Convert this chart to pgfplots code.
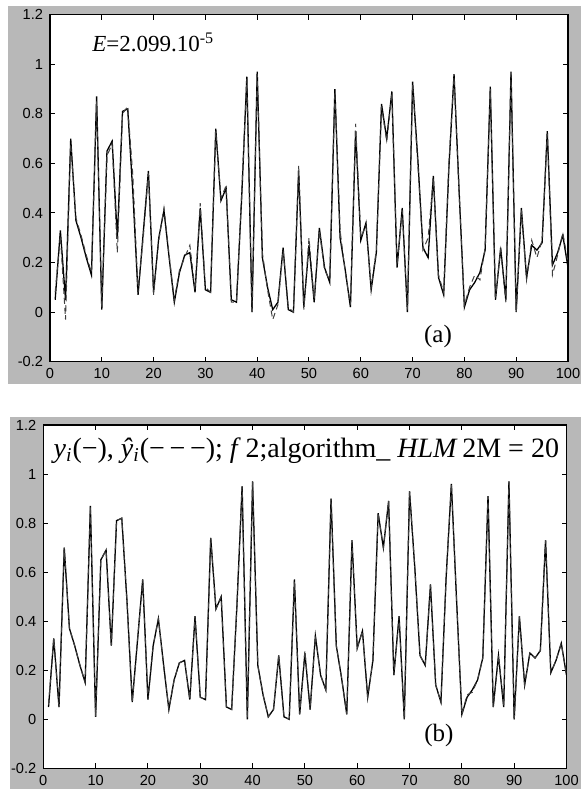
\documentclass[border=0pt]{standalone}
\usepackage{pgfplots}
\usepackage{pgfplotstable}
\pgfplotsset{compat=1.18}
\usepackage{fontspec}
\setmainfont{Liberation Serif}
\newfontfamily\tickfont{Liberation Sans}
\definecolor{bggray}{gray}{0.72}

\pgfplotstableread{
t y ya yb
1 0.05 0.08 0.06
2 0.33 0.31 0.33
3 0.05 -0.03 0.05
4 0.70 0.68 0.70
5 0.37 0.38 0.37
6 0.30 0.31 0.30
7 0.22 0.23 0.22
8 0.15 0.16 0.15
9 0.87 0.85 0.87
10 0.01 0.02 0.01
11 0.65 0.63 0.65
12 0.69 0.68 0.69
13 0.30 0.24 0.30
14 0.81 0.80 0.81
15 0.82 0.83 0.82
16 0.48 0.55 0.48
17 0.07 0.08 0.07
18 0.32 0.30 0.32
19 0.57 0.56 0.57
20 0.08 0.07 0.08
21 0.30 0.29 0.30
22 0.41 0.42 0.41
23 0.22 0.23 0.22
24 0.04 0.05 0.04
25 0.16 0.17 0.16
26 0.23 0.22 0.23
27 0.24 0.27 0.24
28 0.08 0.09 0.08
29 0.42 0.44 0.42
30 0.09 0.10 0.09
31 0.08 0.08 0.08
32 0.74 0.73 0.74
33 0.45 0.46 0.45
34 0.50 0.51 0.50
35 0.05 0.04 0.05
36 0.04 0.04 0.04
37 0.46 0.48 0.46
38 0.95 0.94 0.95
39 0.00 0.00 0.00
40 0.97 0.96 0.97
41 0.22 0.24 0.22
42 0.10 0.09 0.10
43 0.01 -0.03 0.01
44 0.04 0.03 0.04
45 0.26 0.25 0.26
46 0.01 0.02 0.01
47 0.00 0.00 0.00
48 0.57 0.59 0.56
49 0.02 0.01 0.02
50 0.27 0.30 0.28
51 0.04 0.05 0.04
52 0.34 0.33 0.34
53 0.18 0.17 0.18
54 0.12 0.13 0.12
55 0.90 0.89 0.90
56 0.30 0.33 0.30
57 0.17 0.16 0.17
58 0.02 0.03 0.02
59 0.73 0.76 0.72
60 0.29 0.30 0.29
61 0.36 0.35 0.36
62 0.09 0.10 0.09
63 0.24 0.25 0.24
64 0.84 0.83 0.84
65 0.70 0.69 0.70
66 0.89 0.88 0.89
67 0.18 0.19 0.18
68 0.42 0.41 0.42
69 0.00 0.01 0.00
70 0.93 0.92 0.93
71 0.62 0.60 0.62
72 0.26 0.25 0.26
73 0.22 0.30 0.22
74 0.55 0.54 0.55
75 0.14 0.15 0.14
76 0.07 0.08 0.07
77 0.58 0.60 0.58
78 0.96 0.95 0.96
79 0.48 0.47 0.48
80 0.02 0.03 0.02
81 0.09 0.10 0.10
82 0.12 0.15 0.11
83 0.16 0.13 0.16
84 0.25 0.26 0.25
85 0.91 0.90 0.91
86 0.05 0.06 0.05
87 0.26 0.25 0.26
88 0.05 0.04 0.05
89 0.97 0.96 0.97
90 0.00 0.00 0.00
91 0.42 0.41 0.42
92 0.14 0.13 0.14
93 0.27 0.29 0.27
94 0.25 0.22 0.25
95 0.28 0.29 0.28
96 0.73 0.72 0.73
97 0.19 0.15 0.19
98 0.24 0.23 0.24
99 0.31 0.32 0.31
100 0.18 0.20 0.18
}\data

\pgfplotsset{
  myaxis/.style={
    scale only axis,
    xmin=0, xmax=100, ymin=-0.2, ymax=1.2,
    xtick={0,10,...,100},
    ytick={-0.2,0,0.2,0.4,0.6,0.8,1,1.2},
    tick align=inside,
    major tick length=2.5pt,
    axis background/.style={fill=white},
    tick style={black, line width=0.5pt},
    axis line style={line width=0.6pt},
    ticklabel style={font=\tickfont\fontsize{7.3}{8}\selectfont},
    /pgf/number format/assume math mode=true,
  },
}

\begin{document}
\begin{tikzpicture}
\path[use as bounding box] (0,0) rectangle (290.5pt,-394.5pt);
\fill[bggray] (4pt,-3pt) rectangle (290.5pt,-192pt);
\fill[bggray] (5pt,-208.5pt) rectangle (290.5pt,-394.5pt);

\begin{axis}[myaxis, at={(25pt,-180.85pt)}, anchor=south west,
  width=259pt, height=173.5pt]
  \addplot[black, line width=0.65pt] table[x=t, y=y] {\data};
  \addplot[black!75, line width=0.5pt, densely dashed] table[x=t, y=ya] {\data};
  \node[anchor=base west, inner sep=0pt, font=\fontsize{11.5}{13}\selectfont]
    at (axis cs:8.1,1.05) {\textit{E}=2.099.10\textsuperscript{-5}};
  \node[font=\fontsize{12.5}{14}\selectfont] at (axis cs:74.9,-0.1) {(a)};
\end{axis}

\begin{axis}[myaxis, at={(21.65pt,-384.15pt)}, anchor=south west,
  width=261.6pt, height=171.65pt]
  \addplot[black, line width=0.65pt] table[x=t, y=y] {\data};
  \addplot[black!75, line width=0.5pt, densely dashed] table[x=t, y=yb] {\data};
  \node[anchor=base west, inner sep=0pt, font=\fontsize{14}{16}\selectfont]
    at (axis cs:1.9,1.068) {\textit{y}\textsubscript{\textit{i}}(−), \textit{ŷ}\textsubscript{\textit{i}}(−\,−\,−); \textit{f}\,2;algorithm\_\ \textit{HLM}\,2M = 20};
  \node[font=\fontsize{12.5}{14}\selectfont] at (axis cs:75.6,-0.065) {(b)};
\end{axis}
\end{tikzpicture}
\end{document}
